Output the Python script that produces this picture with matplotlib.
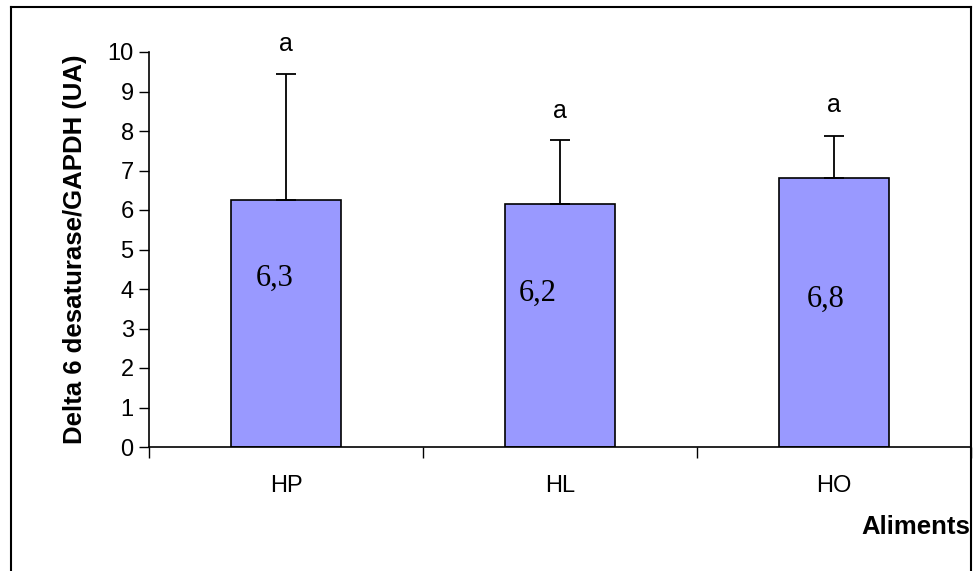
import matplotlib
matplotlib.use("Agg")
import matplotlib.pyplot as plt
from matplotlib.lines import Line2D

categories = ["HP", "HL", "HO"]
values = [6.26, 6.16, 6.82]
errors = [3.19, 1.62, 1.05]
value_labels = ["6,3", "6,2", "6,8"]
label_y = [4.27, 3.89, 3.74]
label_dx = [-0.04, -0.08, -0.03]
sig_letters = ["a", "a", "a"]
sig_y = [10.2, 8.5, 8.65]
yticks = [0, 1, 2, 3, 4, 5, 6, 7, 8, 9, 10]

W, H = 974, 571
fig = plt.figure(figsize=(W / 100, H / 100), dpi=100)
ax = fig.add_axes([149 / W, 1 - 447 / H, (971 - 149) / W, (447 - 52) / H])

x = list(range(len(categories)))
ax.bar(x, values, width=0.40, color="#9999ff", edgecolor="black", linewidth=1.2, zorder=2)
ax.errorbar(x, values, yerr=[[0] * len(errors), errors], fmt="none", ecolor="black",
            elinewidth=1.3, capsize=7, capthick=1.3, zorder=3)

for xi, lab, ly, dx in zip(x, value_labels, label_y, label_dx):
    ax.text(xi + dx, ly, lab, ha="center", va="center", fontsize=22,
            family="Liberation Serif", zorder=4)
for xi, s, sy in zip(x, sig_letters, sig_y):
    ax.text(xi, sy, s, ha="center", va="center", fontsize=18,
            family="Liberation Sans", clip_on=False)

ax.set_xlim(-0.5, 2.5)
ax.set_ylim(0, 10)
ax.set_yticks(yticks)
ax.set_yticklabels([str(t) for t in yticks], fontsize=17, family="Liberation Sans")
ax.set_xticks([-0.5, 0.5, 1.5, 2.5])
ax.set_xticklabels([])
ax.set_xticks(x, minor=True)
ax.set_xticklabels(categories, minor=True, fontsize=17, family="Liberation Sans")
ax.tick_params(axis="x", which="major", direction="out", length=8, width=1)
ax.tick_params(axis="x", which="minor", length=0, pad=20)
ax.tick_params(axis="y", direction="out", length=7, width=1, pad=4)

for s in ["top", "right"]:
    ax.spines[s].set_visible(False)
for s in ["left", "bottom"]:
    ax.spines[s].set_linewidth(1.2)

ax.set_ylabel("Delta 6 desaturase/GAPDH (UA)", fontsize=18.5, fontweight="bold",
              family="Liberation Sans", labelpad=15)
fig.text(970 / W, 1 - 527 / H, "Aliments", ha="right", va="center", fontsize=18.5,
         fontweight="bold", family="Liberation Sans")

# figure border
bx0, by0, bx1 = 11 / W, 1 - 7 / H, 971 / W
fig.add_artist(Line2D([bx0, bx0], [0, by0], color="black", lw=1.5, transform=fig.transFigure))
fig.add_artist(Line2D([bx0, bx1], [by0, by0], color="black", lw=1.5, transform=fig.transFigure))
fig.add_artist(Line2D([bx1, bx1], [0, by0], color="black", lw=1.5, transform=fig.transFigure))

fig.savefig("out.png", dpi=100)
